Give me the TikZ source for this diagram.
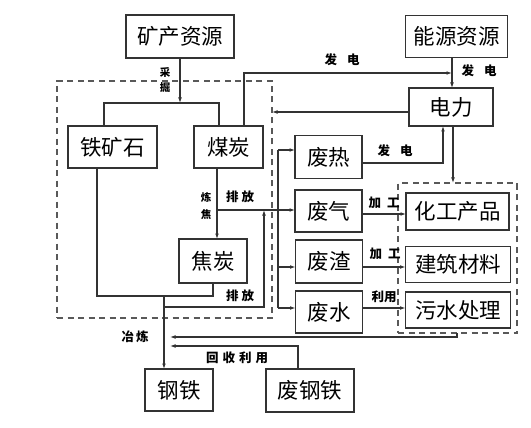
\documentclass[tikz,border=0pt]{standalone}
\usepackage{fontspec}
\newfontfamily\cjk{Noto Sans CJK SC}
\usetikzlibrary{arrows.meta}
\begin{document}
\begin{tikzpicture}[x=1pt,y=-1pt,
  box/.style={draw=black!80,line width=1.3pt,inner sep=0pt,outer sep=0pt,
    font=\cjk\fontsize{21.5}{21.5}\selectfont},
  dbox/.style={draw=black!65,line width=1.1pt,dash pattern=on 6pt off 4.5pt,inner sep=0pt,outer sep=0pt},
  ln/.style={draw=black!80,line width=1.1pt},
  arr/.style={ln,-{Latex[length=5.5pt,width=3.8pt]}},
  lab/.style={font=\cjk\bfseries\fontsize{12.5}{12.5}\selectfont,inner sep=0pt},
  vlab/.style={font=\cjk\bfseries\fontsize{10.5}{15}\selectfont,inner sep=0pt,align=center}]
\useasboundingbox (0,0) rectangle (531,428);
% dashed groups
\node[dbox,minimum width=215pt,minimum height=237pt] (d1) at (164.5,199.5) {};
\node[dbox,minimum width=119pt,minimum height=150pt] (d2) at (457.5,258) {};
% boxes
\node[box,minimum width=108pt,minimum height=43pt] (kc) at (180,36.5) {矿产资源};
\node[box,minimum width=102pt,minimum height=42pt] (ny) at (456.5,36.5) {能源资源};
\node[box,minimum width=84pt,minimum height=38pt] (dl) at (451,107) {电力};
\node[box,minimum width=89pt,minimum height=42pt] (tk) at (112.5,147) {铁矿石};
\node[box,minimum width=69pt,minimum height=42pt] (mt) at (228.5,147) {煤炭};
\node[box,minimum width=68pt,minimum height=44pt] (jt) at (213,261) {焦炭};
\node[box,minimum width=67pt,minimum height=43pt] (fr) at (328.5,157) {废热};
\node[box,minimum width=67pt,minimum height=42pt] (fq) at (328.5,211) {废气};
\node[box,minimum width=67pt,minimum height=43pt] (fz) at (329,261.5) {废渣};
\node[box,minimum width=67pt,minimum height=42pt] (fs) at (329,312) {废水};
\node[box,minimum width=103pt,minimum height=37pt] (hg) at (457.5,211.5) {化工产品};
\node[box,minimum width=105pt,minimum height=36pt] (jz) at (458,264.5) {建筑材料};
\node[box,minimum width=105pt,minimum height=36pt] (ws) at (458,310) {污水处理};
\node[box,minimum width=68pt,minimum height=42pt] (gt) at (179,390) {钢铁};
\node[box,minimum width=88pt,minimum height=43pt] (fg) at (310,390.5) {废钢铁};
% coordinates
\coordinate (j1) at (180,103);
\coordinate (ja) at (104,103);
\coordinate (jb) at (219,103);
\coordinate (e1) at (244,73);
\coordinate (e1b) at (452,73);
\coordinate (e2) at (409,112);
\coordinate (e3) at (453,126);
\coordinate (e4) at (443,163);
\coordinate (c1) at (217,210);
\coordinate (b1) at (278,150);
\coordinate (b2) at (278,267);
\coordinate (b3) at (278,308);
\coordinate (t1) at (97,296);
\coordinate (t2) at (164,296);
\coordinate (t3) at (213,296);
\coordinate (p1) at (164,307);
\coordinate (p2) at (264,307);
\coordinate (r1) at (0,214);
\coordinate (r2) at (0,267);
\coordinate (r3) at (0,308);
\coordinate (q1) at (457,337);
\coordinate (q2) at (170,337);
\coordinate (q3) at (298,346);
\coordinate (q4) at (170,346);
% connectors
\draw[arr] (kc.south) -- (j1);
\draw[ln] (ja |- tk.north) -- (ja) -- (jb) -- (jb |- mt.north);
\draw[arr] (e1 |- mt.north) |- (e1b);
\draw[arr] (e1b |- ny.south) -- (e1b |- dl.north);
\draw[arr] (e2 -| dl.west) -- (e2 -| d1.east);
\draw[arr] (e3 |- dl.south) -- (e3 |- d2.north);
\draw[arr] (e4 -| fr.east) -| (e4 |- dl.south);
\draw[arr] (c1 |- mt.south) -- (c1 |- jt.north);
\draw[arr] (c1) -- (c1 -| fq.west);
\draw[ln] (b1) -- (b3);
\draw[arr] (b1) -- (b1 -| fr.west);
\draw[arr] (b2) -- (b2 -| fz.west);
\draw[arr] (b3) -- (b3 -| fs.west);
\draw[ln] (t1 |- tk.south) -- (t1) -- (t3) -- (t3 |- jt.south);
\draw[arr] (t2) -- (t2 |- gt.north);
\draw[arr] (p1) -- (p2) -- (p2 |- c1);
\draw[arr] (r1 -| fq.east) -- (r1 -| hg.west);
\draw[arr] (r2 -| fz.east) -- (r2 -| jz.west);
\draw[arr] (r3 -| fs.east) -- (r3 -| ws.west);
\draw[arr] (q1 |- d2.south) -- (q1) -- (q2);
\draw[arr] (q3 |- fg.north) -- (q3) -- (q4);
% labels
\node[vlab] (l1) at (165,80) {采\\掘};
\node[vlab] (l2) at (206,206) {炼\\[2pt]焦};
\node[lab] (l3) at (240,197) {排\hspace{3pt}放};
\node[lab] (l4) at (342,60) {发\hspace{10pt}电};
\node[lab] (l5) at (479,71) {发\hspace{10pt}电};
\node[lab] (l6) at (395,151) {发\hspace{10pt}电};
\node[lab] (l7) at (384,203) {加\hspace{6pt}工};
\node[lab] (l8) at (385,254) {加\hspace{6pt}工};
\node[lab] (l9) at (384,297) {利用};
\node[lab] (l10) at (240,296) {排\hspace{3pt}放};
\node[lab] (l11) at (135,337) {冶\hspace{2pt}炼};
\node[lab] (l12) at (237,358) {回\hspace{4pt}收\hspace{4pt}利\hspace{4pt}用};
\end{tikzpicture}
\end{document}
